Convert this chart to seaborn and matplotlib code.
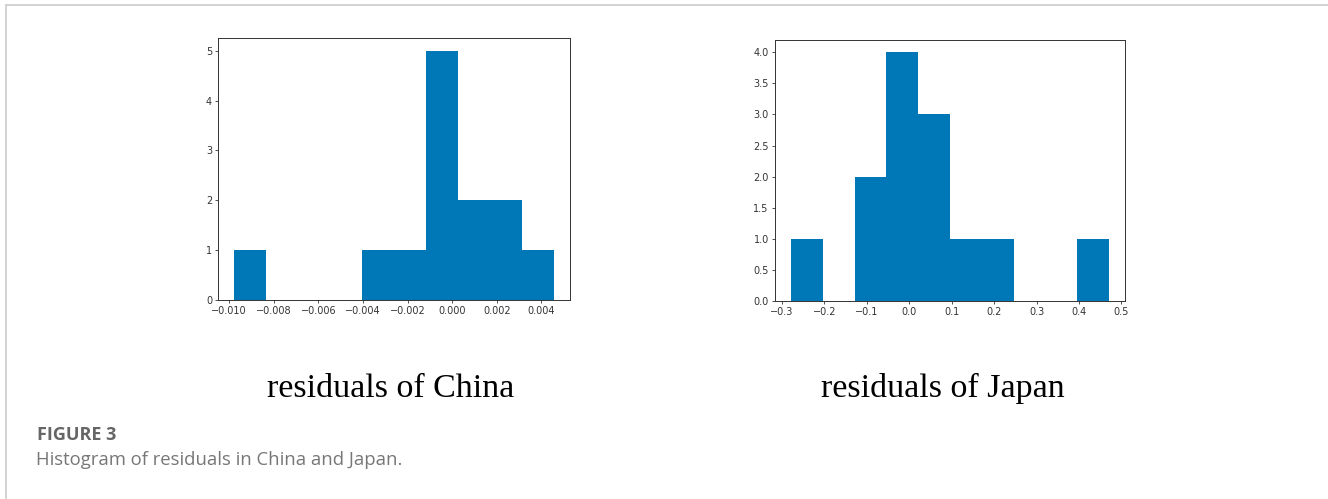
import matplotlib
matplotlib.use("Agg")
import matplotlib.pyplot as plt
from matplotlib.lines import Line2D
import pandas as pd
import seaborn as sns

# histogram bins
china_edges = [-0.00977, -0.008336, -0.006902, -0.005468, -0.004034, -0.0026,
               -0.001166, 0.000268, 0.001702, 0.003136, 0.00457]
china_counts = [1, 0, 0, 0, 1, 1, 5, 2, 2, 1]

japan_edges = [-0.2788, -0.2038, -0.1288, -0.0538, 0.0212, 0.0962,
               0.1712, 0.2462, 0.3212, 0.3962, 0.4712]
japan_counts = [1, 0, 2, 4, 3, 1, 1, 0, 0, 1]

panel_titles = ["residuals of China", "residuals of Japan"]
china_yticks = [0, 1, 2, 3, 4, 5]
japan_yticks = [0.0, 0.5, 1.0, 1.5, 2.0, 2.5, 3.0, 3.5, 4.0]

bar_color = "#0077b6"

sns.set_theme(style="ticks")
plt.rcParams["font.family"] = ["DejaVu Sans"]

fig = plt.figure(figsize=(13.28, 4.99), dpi=100)
ax1 = fig.add_axes([0.1644, 0.3988, 0.2648, 0.5244])
ax2 = fig.add_axes([0.5836, 0.3974, 0.2636, 0.5224])


def draw_hist(ax, edges, counts, yticks):
    mids = [(a + b) / 2 for a, b in zip(edges[:-1], edges[1:])]
    df = pd.DataFrame({"resid": mids, "count": counts})
    sns.histplot(data=df, x="resid", weights="count", bins=list(edges), ax=ax,
                 color=bar_color, alpha=1, linewidth=0)
    ax.set_ylabel("")
    ax.set_xlabel("")
    ax.set_yticks(yticks)
    ax.margins(x=0.05)
    ax.set_ylim(0, max(counts) * 1.05)
    for s in ax.spines.values():
        s.set_visible(True)
        s.set_color("#333333")
        s.set_linewidth(0.7)
    ax.tick_params(labelsize=7, length=2.5, width=0.6, colors="#333333",
                   pad=2)


draw_hist(ax1, china_edges, china_counts, china_yticks)
ax1.set_xticks([-0.010, -0.008, -0.006, -0.004, -0.002, 0.000, 0.002, 0.004])
ax1.set_xticklabels(["\u22120.010", "\u22120.008", "\u22120.006", "\u22120.004",
                     "\u22120.002", "0.000", "0.002", "0.004"])
ax1.set_yticklabels([str(t) for t in china_yticks])

draw_hist(ax2, japan_edges, japan_counts, japan_yticks)
ax2.set_xticks([-0.3, -0.2, -0.1, 0.0, 0.1, 0.2, 0.3, 0.4, 0.5])
ax2.set_xticklabels(["\u22120.3", "\u22120.2", "\u22120.1", "0.0", "0.1",
                     "0.2", "0.3", "0.4", "0.5"])
ax2.set_yticklabels([f"{t:.1f}" for t in japan_yticks])

# panel captions under each chart
fig.text(391 / 1328, 1 - 397 / 499, panel_titles[0], ha="center", va="baseline",
         family="Liberation Serif", fontsize=24.5, color="black")
fig.text(943 / 1328, 1 - 397 / 499, panel_titles[1], ha="center", va="baseline",
         family="Liberation Serif", fontsize=24.5, color="black")

# figure caption
fig.text(37 / 1328, 1 - 440 / 499, "FIGURE 3", ha="left", va="baseline",
         family="Open Sans", fontweight="bold", fontsize=13, color="#666666")
fig.text(36 / 1328, 1 - 465 / 499, "Histogram of residuals in China and Japan.",
         ha="left", va="baseline", family="Open Sans", fontsize=13.3,
         color="#777777")

# page frame lines (top and left)
fig.add_artist(Line2D([6 / 1328, 1], [1 - 4.5 / 499, 1 - 4.5 / 499],
                      transform=fig.transFigure, color="#cccccc", lw=1.2))
fig.add_artist(Line2D([6 / 1328, 6 / 1328], [0, 1 - 4.5 / 499],
                      transform=fig.transFigure, color="#cccccc", lw=1.2))

fig.savefig("out.png", dpi=100, facecolor="white")
